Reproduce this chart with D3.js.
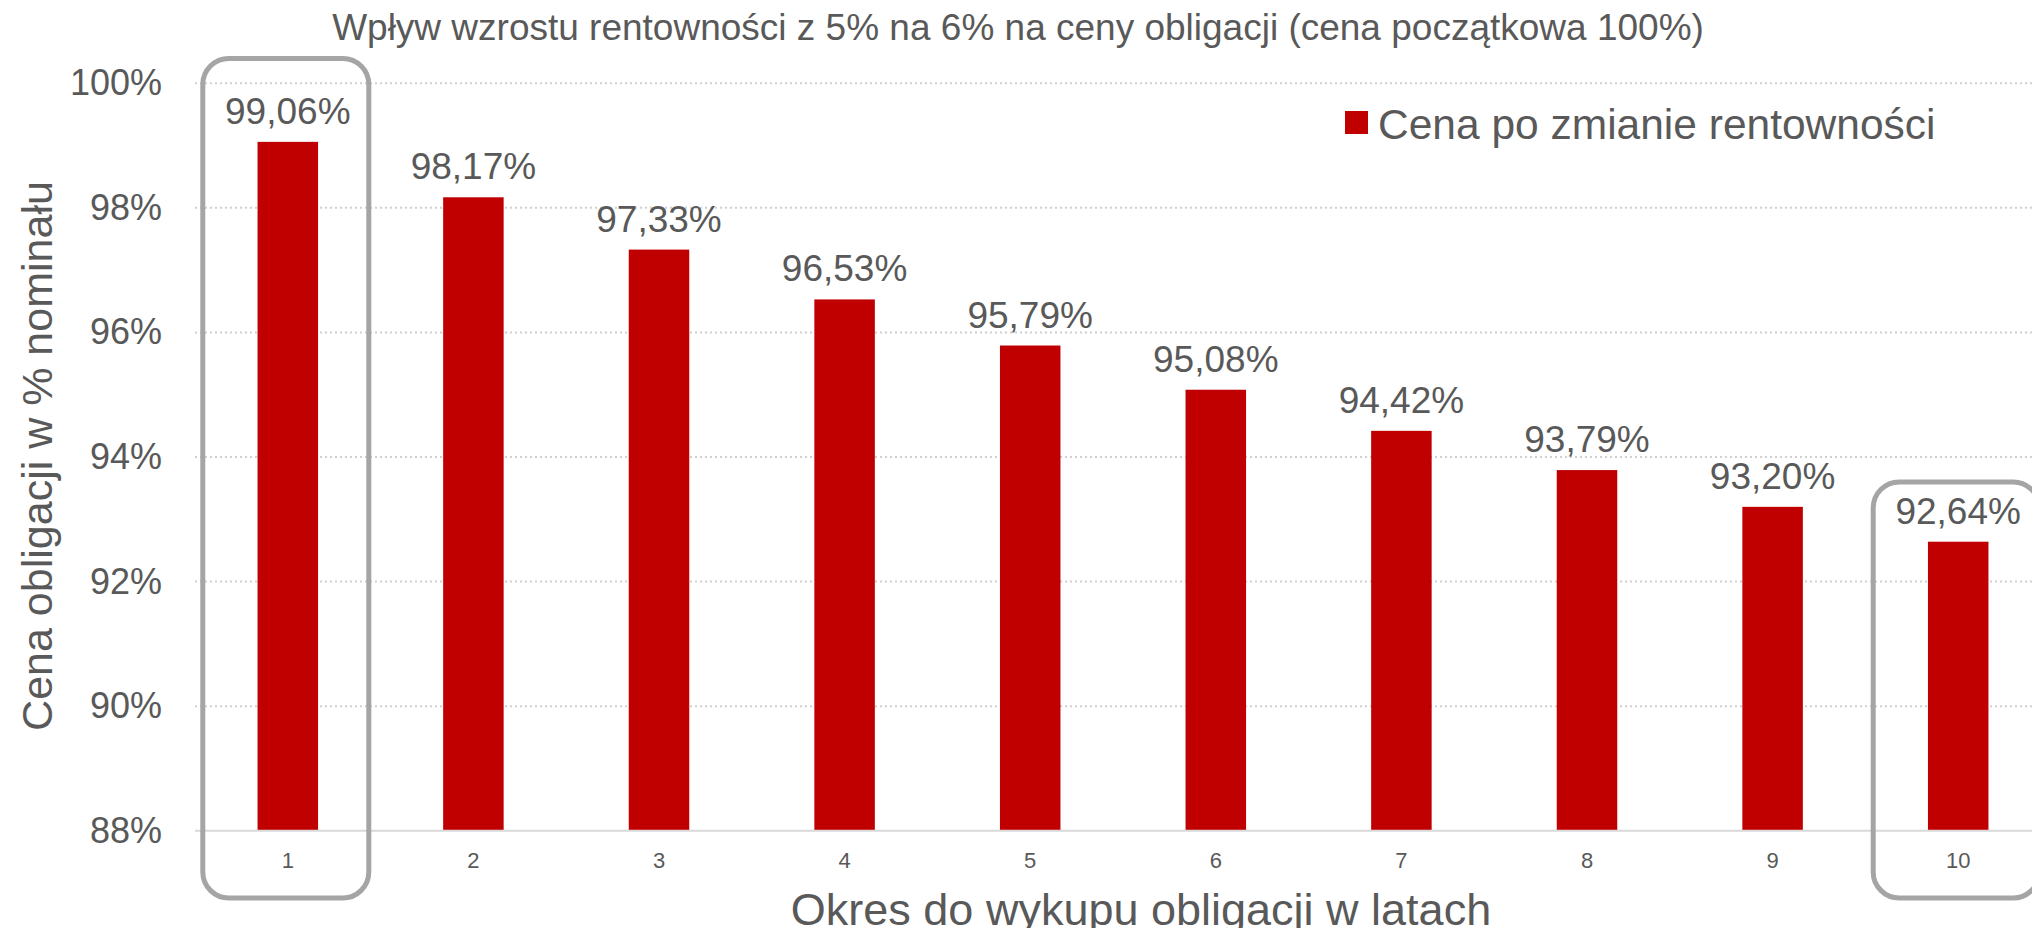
<!DOCTYPE html>
<html>
<head>
<meta charset="utf-8">
<script src="https://cdn.jsdelivr.net/npm/d3@7"></script>
<style>
  body { margin: 0; background: #fff; }
  text { font-family: "Liberation Sans", Arial, sans-serif; fill: #595959; }
</style>
</head>
<body>
<div id="chart"></div>
<script>
// data
var years = ['1', '2', '3', '4', '5', '6', '7', '8', '9', '10'];
var prices = [99.06, 98.17, 97.33, 96.53, 95.79, 95.08, 94.42, 93.79, 93.20, 92.64];
var yTicks = [88, 90, 92, 94, 96, 98, 100];
// highlighted maturities and top of their frame (in % units)
var highlightYears = ['1', '10'];
var highlightTops = [100.4, 93.6];

var W = 2032, H = 928;
var plot = { left: 195, right: 2051, top: 83.3, bottom: 830.7 };

var svg = d3.select('#chart')
  .append('svg')
  .attr('width', W)
  .attr('height', H);

/* Scales */
var x = d3.scaleBand()
  .domain(years)
  .range([plot.left, plot.right])
  .paddingInner(0.674)
  .paddingOuter(0.337);

var y = d3.scaleLinear()
  .domain([88, 100])
  .range([plot.bottom, plot.top]);

/* Grid lines */
svg.append('g')
  .selectAll('line')
  .data(yTicks.filter(d => d > 88))
  .enter()
  .append('line')
  .attr('x1', plot.left)
  .attr('x2', W)
  .attr('y1', d => y(d))
  .attr('y2', d => y(d))
  .style('stroke', '#d0d0d0')
  .style('stroke-width', 2)
  .style('stroke-dasharray', '2,3');

/* Y axis (labels only) */
var yAxis = d3.axisLeft(y)
  .tickValues(yTicks)
  .tickSize(0)
  .tickPadding(0)
  .tickFormat(d => d + '%');

svg.append('g')
  .attr('class', 'y axis')
  .attr('transform', 'translate(162,0)')
  .call(yAxis)
  .call(g => g.select('.domain').remove())
  .selectAll('text')
  .style('font-size', '36px')
  .style('fill', '#595959')
  .style('font-family', '"Liberation Sans", Arial, sans-serif');

/* Bars */
svg.append('g')
  .selectAll('rect')
  .data(prices)
  .enter()
  .append('rect')
  .attr('x', (d, i) => x(years[i]))
  .attr('width', x.bandwidth())
  .attr('y', d => y(d))
  .attr('height', d => y(88) - y(d))
  .style('fill', '#c00000');

/* X axis */
var xAxis = d3.axisBottom(x).tickSize(0).tickPadding(0);

var gx = svg.append('g')
  .attr('class', 'x axis')
  .attr('transform', 'translate(0,' + plot.bottom + ')')
  .call(xAxis);

gx.select('.domain').remove();
gx.append('line')
  .attr('x1', plot.left)
  .attr('x2', W)
  .style('stroke', '#d9d9d9')
  .style('stroke-width', 2);

gx.selectAll('.tick text')
  .attr('y', 37)
  .attr('dy', 0)
  .style('font-size', '22px')
  .style('fill', '#595959')
  .style('font-family', '"Liberation Sans", Arial, sans-serif');

/* Value labels */
svg.append('g')
  .selectAll('text')
  .data(prices)
  .enter()
  .append('text')
  .attr('x', (d, i) => x(years[i]) + x.bandwidth() / 2)
  .attr('y', d => y(d) - 18)
  .attr('text-anchor', 'middle')
  .style('font-size', '37px')
  .text(d => d.toFixed(2).replace('.', ',') + '%');

/* Highlight frames */
svg.append('g')
  .selectAll('rect')
  .data(highlightYears)
  .enter()
  .append('rect')
  .attr('x', d => x(d) + x.bandwidth() / 2 - 85)
  .attr('width', 166)
  .attr('y', (d, i) => y(highlightTops[i]))
  .attr('height', (d, i) => 898 - y(highlightTops[i]))
  .attr('rx', 26)
  .style('fill', 'none')
  .style('stroke', '#a5a5a5')
  .style('stroke-width', 5);

/* Title */
svg.append('text')
  .attr('x', 1018)
  .attr('y', 40)
  .attr('text-anchor', 'middle')
  .style('font-size', '37px')
  .text('Wpływ wzrostu rentowności z 5% na 6% na ceny obligacji (cena początkowa 100%)');

/* Legend */
svg.append('rect')
  .attr('x', 1345)
  .attr('y', 111)
  .attr('width', 23)
  .attr('height', 23)
  .style('fill', '#c00000');

svg.append('text')
  .attr('x', 1378)
  .attr('y', 139)
  .style('font-size', '42.5px')
  .text('Cena po zmianie rentowności');

/* Axis titles */
svg.append('text')
  .attr('x', 1141)
  .attr('y', 925)
  .attr('text-anchor', 'middle')
  .style('font-size', '45px')
  .text('Okres do wykupu obligacji w latach');

svg.append('text')
  .attr('transform', 'translate(52,456) rotate(-90)')
  .attr('text-anchor', 'middle')
  .style('font-size', '43px')
  .text('Cena obligacji w % nominału');
</script>
</body>
</html>
